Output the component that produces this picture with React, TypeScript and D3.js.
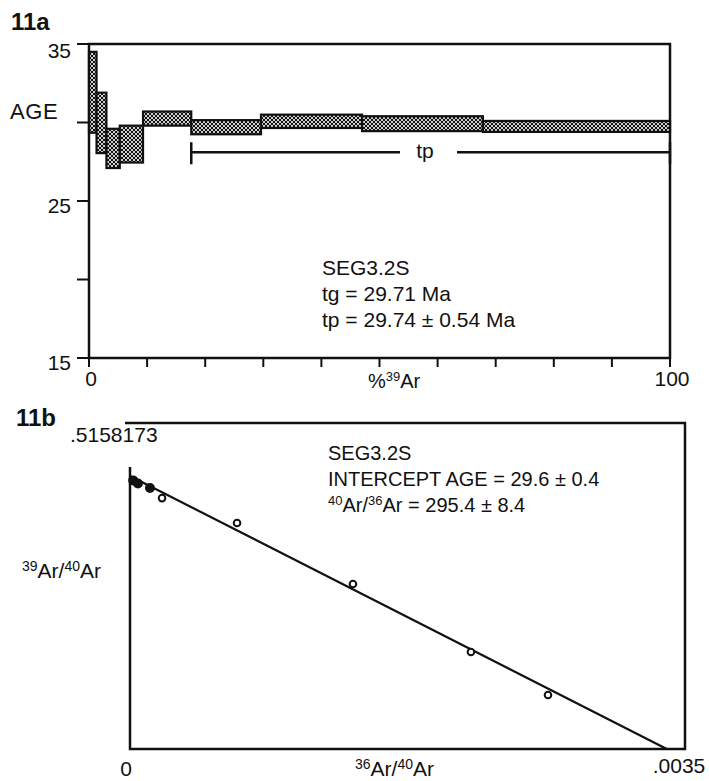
import React, { useEffect, useRef } from 'react';
import * as d3 from 'd3';

// 11a: age spectrum steps (cumulative %39Ar boundaries, age box top/bottom in Ma)
const stepEdges = [0, 1.3, 3.0, 5.3, 9.3, 17.6, 29.6, 47.0, 67.8, 100];
const ageHigh = [34.5, 31.9, 29.6, 29.8, 30.7, 30.15, 30.5, 30.4, 30.1];
const ageLow = [29.35, 28.05, 27.1, 27.45, 29.8, 29.25, 29.65, 29.45, 29.4];
const plateauRange = [17.6, 100];
const plateauAge = 28.1;
const ageTicks = [15, 20, 25, 30, 35];
const ageTickLabels = ['15', '', '25', '', '35'];
const pctTicks = d3.range(0, 101, 10);
const sampleLines = ['SEG3.2S', 'tg = 29.71 Ma', 'tp = 29.74 \u00b1 0.54 Ma'];

// 11b: isochron points (36Ar/40Ar, 39Ar/40Ar)
const isoX = [0.00002, 0.00005, 0.000126, 0.000202, 0.000675, 0.001406, 0.00215, 0.002636];
const isoY = [0.425, 0.42, 0.413, 0.397, 0.3576, 0.2611, 0.1535, 0.0854];
const isoFilled = [true, true, true, false, false, false, false, false];
const fitX = [0, 0.003385];
const fitY = [0.432, 0];
const isoMaxY = 0.5158173;
const isoMaxX = 0.0035;

const FONT = '"Liberation Sans", Arial, Helvetica, sans-serif';

export default function App() {
  const ref = useRef<SVGSVGElement>(null);

  useEffect(() => {
    const svg = d3.select(ref.current);
    svg.selectAll('*').remove();

    const defs = svg.append('defs');
    const pat = defs
      .append('pattern')
      .attr('id', 'stipple')
      .attr('patternUnits', 'userSpaceOnUse')
      .attr('width', 4)
      .attr('height', 4);
    pat.append('rect').attr('width', 4).attr('height', 4).attr('fill', '#fff');
    [[0, 0], [4, 0], [0, 4], [4, 4], [2, 2]].forEach(([cx, cy]) =>
      pat.append('circle').attr('cx', cx).attr('cy', cy).attr('r', 1.25).attr('fill', '#111')
    );

    const g = svg.append('g').attr('font-family', FONT).attr('fill', '#111');

    // ---------- 11a ----------
    const x = d3.scaleLinear().domain([0, 100]).range([89, 670]);
    const y = d3.scaleLinear().domain([15, 35]).range([358, 44]);

    g.append('text').attr('x', 11).attr('y', 30).attr('font-size', 24).attr('font-weight', 'bold').text('11a');

    // frame
    g.append('path')
      .attr('d', `M${x(0)},${y(35)}H${x(100)}V${y(15)}H${x(0)}Z`)
      .attr('fill', 'none')
      .attr('stroke', '#111')
      .attr('stroke-width', 2.5);

    // y ticks
    ageTicks.forEach((t, i) => {
      g.append('line')
        .attr('x1', x(0) - 12).attr('x2', x(0))
        .attr('y1', y(t)).attr('y2', y(t))
        .attr('stroke', '#111').attr('stroke-width', 2);
      if (ageTickLabels[i])
        g.append('text')
          .attr('x', 71).attr('y', y(t) + (t === 35 ? 14 : 12))
          .attr('text-anchor', 'end').attr('font-size', 21)
          .text(ageTickLabels[i]);
    });
    g.append('text').attr('x', 10).attr('y', 119).attr('font-size', 22).attr('letter-spacing', 0.6).text('AGE');

    // x ticks
    pctTicks.forEach((t) => {
      g.append('line')
        .attr('x1', x(t)).attr('x2', x(t))
        .attr('y1', y(15)).attr('y2', y(15) + 9)
        .attr('stroke', '#111').attr('stroke-width', 2);
    });
    g.append('text').attr('x', x(0) + 2).attr('y', 386).attr('text-anchor', 'middle').attr('font-size', 21).text('0');
    g.append('text').attr('x', x(100) + 2).attr('y', 386).attr('text-anchor', 'middle').attr('font-size', 21).text('100');
    const pl = g.append('text').attr('x', 368).attr('y', 388).attr('font-size', 20);
    pl.append('tspan').text('%');
    pl.append('tspan').attr('font-size', 13).attr('dy', -7).text('39');
    pl.append('tspan').attr('dy', 7).text('Ar');

    // steps
    g.selectAll('rect.step')
      .data(ageHigh.map((h, i) => ({ x0: stepEdges[i], x1: stepEdges[i + 1], hi: h, lo: ageLow[i] })))
      .enter()
      .append('rect')
      .attr('class', 'step')
      .attr('x', (d) => x(d.x0))
      .attr('width', (d) => x(d.x1) - x(d.x0))
      .attr('y', (d) => y(d.hi))
      .attr('height', (d) => y(d.lo) - y(d.hi))
      .attr('fill', 'url(#stipple)')
      .attr('stroke', '#111')
      .attr('stroke-width', 2.2);

    // plateau bar
    const py = y(plateauAge);
    const gapL = 400;
    const gapR = 457;
    g.append('path')
      .attr('d', `M${x(plateauRange[0])},${py}H${gapL}M${gapR},${py}H${x(plateauRange[1])}M${x(plateauRange[0])},${py - 10}V${py + 12}M${x(plateauRange[1])},${py - 10}V${py + 12}`)
      .attr('stroke', '#111').attr('stroke-width', 2.5).attr('fill', 'none');
    g.append('text').attr('x', 425).attr('y', py + 6).attr('text-anchor', 'middle').attr('font-size', 21).text('tp');

    sampleLines.forEach((s, i) => {
      g.append('text').attr('x', 322).attr('y', 275 + i * 26).attr('font-size', 21).text(s);
    });

    // ---------- 11b ----------
    const bx = d3.scaleLinear().domain([0, isoMaxX]).range([130, 685]);
    const by = d3.scaleLinear().domain([0, isoMaxY]).range([749, 423]);

    g.append('text').attr('x', 16).attr('y', 426).attr('font-size', 24).attr('font-weight', 'bold').text('11b');
    g.append('text').attr('x', 70).attr('y', 442).attr('font-size', 21).text('.5158173');

    g.append('path')
      .attr('d', `M125,${by(isoMaxY)}H${bx(isoMaxX)}V${by(0)}H${bx(0)}V467`)
      .attr('fill', 'none').attr('stroke', '#111').attr('stroke-width', 2.5);

    const line = d3.line<number>().x((d) => bx(fitX[d])).y((d) => by(fitY[d]));
    g.append('path').attr('d', line([0, 1])).attr('stroke', '#111').attr('stroke-width', 2.2).attr('fill', 'none');

    g.selectAll('circle.pt')
      .data(isoX.map((v, i) => ({ x: v, y: isoY[i], f: isoFilled[i] })))
      .enter()
      .append('circle')
      .attr('class', 'pt')
      .attr('cx', (d) => bx(d.x))
      .attr('cy', (d) => by(d.y))
      .attr('r', (d) => (d.f ? 4 : 3.3))
      .attr('fill', (d) => (d.f ? '#111' : '#fff'))
      .attr('stroke', '#111')
      .attr('stroke-width', 2);

    const ylab = g.append('text').attr('x', 22).attr('y', 578).attr('font-size', 21);
    ylab.append('tspan').attr('font-size', 14).attr('dy', -7).text('39');
    ylab.append('tspan').attr('dy', 7).text('Ar/');
    ylab.append('tspan').attr('font-size', 14).attr('dy', -7).text('40');
    ylab.append('tspan').attr('dy', 7).text('Ar');

    g.append('text').attr('x', 126).attr('y', 776).attr('text-anchor', 'middle').attr('font-size', 21).text('0');
    g.append('text').attr('x', 679).attr('y', 773).attr('text-anchor', 'middle').attr('font-size', 21).text('.0035');
    const xlab = g.append('text').attr('x', 355).attr('y', 776).attr('font-size', 21);
    xlab.append('tspan').attr('font-size', 14).attr('dy', -7).text('36');
    xlab.append('tspan').attr('dy', 7).text('Ar/');
    xlab.append('tspan').attr('font-size', 14).attr('dy', -7).text('40');
    xlab.append('tspan').attr('dy', 7).text('Ar');

    const info = ['SEG3.2S', 'INTERCEPT AGE = 29.6 \u00b1 0.4'];
    info.forEach((s, i) => {
      g.append('text').attr('x', 328).attr('y', 460 + i * 26).attr('font-size', 20).text(s);
    });
    const ratio = g.append('text').attr('x', 328).attr('y', 512).attr('font-size', 20);
    ratio.append('tspan').attr('font-size', 13).attr('dy', -7).text('40');
    ratio.append('tspan').attr('dy', 7).text('Ar/');
    ratio.append('tspan').attr('font-size', 13).attr('dy', -7).text('36');
    ratio.append('tspan').attr('dy', 7).text('Ar = 295.4 \u00b1 8.4');
  }, []);

  return (
    <svg
      ref={ref}
      width={709}
      height={781}
      style={{ position: 'absolute', left: 0, top: 0, background: '#fff' }}
    />
  );
}
